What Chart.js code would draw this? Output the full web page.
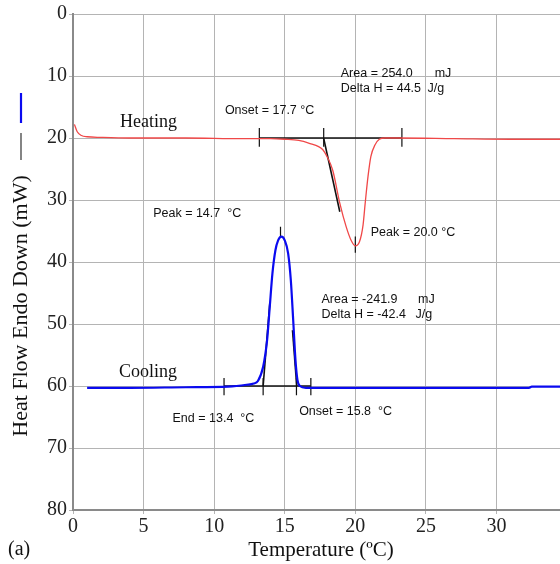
<!DOCTYPE html>
<html>
<head>
<meta charset="utf-8">
<script src="https://cdn.jsdelivr.net/npm/chart.js@4.4.0/dist/chart.umd.min.js"></script>
<style>
  body { margin: 0; background: #fff; }
  #wrap { width: 560px; height: 564px; }
</style>
</head>
<body>
<div id="wrap"><canvas id="grafico"></canvas></div>
<script>
// curva di riscaldamento (rossa)
var heatT = [0.1, 0.3, 0.6, 1.0, 2, 4, 8, 12, 14, 15, 16, 16.8, 17.4, 17.7, 18.0, 18.4, 18.9, 19.35, 19.7, 20.0,
             20.3, 20.55, 20.7, 20.9, 21.1, 21.4, 21.7, 22.1, 23, 27, 31, 34.5];
var heatV = [17.8, 19.0, 19.6, 19.8, 19.9, 20.0, 20.0, 20.1, 20.1, 20.2, 20.4, 20.9, 21.4, 21.9, 23.0, 25.2, 30.5, 34.3, 36.5, 37.4,
             36.7, 34.0, 30.5, 26.2, 23.0, 21.1, 20.2, 20.0, 20.0, 20.1, 20.2, 20.2];
// curva di raffreddamento (blu)
var coolT = [1.0, 4, 8, 11, 12.3, 12.8, 13.1, 13.47, 13.75, 13.94, 14.13, 14.34, 14.53, 14.77, 15.0, 15.24, 15.43, 15.6,
             15.76, 15.9, 16.07, 16.5, 20, 26, 32.3, 32.5, 34.5];
var coolV = [60.3, 60.3, 60.2, 60.1, 59.8, 59.6, 59.2, 56.9, 52.6, 47.2, 41.8, 38.1, 36.5, 35.9, 36.5, 38.6, 42.9, 49.4,
             55.8, 59.0, 60.0, 60.3, 60.3, 60.3, 60.3, 60.1, 60.1];

// linee di analisi (nere)
var heatBaseT = [13.2, 23.3], heatBaseV = [20, 20];
var heatTanT = [17.76, 18.9], heatTanV = [20.05, 31.9];
var coolBaseT = [10.7, 16.85], coolBaseV = [60, 60];
var coolTanLT = [13.47, 13.94], coolTanLV = [60, 46.7];
var coolTanRT = [15.55, 15.85], coolTanRV = [51, 60];
// tacche verticali [T, da, a]
var tacche = [[13.2, 18.4, 21.4], [17.76, 18.4, 21.4], [23.3, 18.4, 21.4], [20.0, 35.9, 38.5],
              [10.7, 58.7, 61.5], [13.47, 58.7, 61.5], [15.83, 58.7, 61.5], [16.85, 58.7, 61.5], [14.7, 34.3, 36.1]];

var xTicks = [0, 5, 10, 15, 20, 25, 30];
var yTicks = [0, 10, 20, 30, 40, 50, 60, 70, 80];

// etichette [testo, T, V]
var etichette = [
    ["Area = 254.0", 18.97, 9.68], ["mJ", 25.62, 9.68],
    ["Delta H = 44.5", 18.97, 11.98], ["J/g", 25.12, 11.98],
    ["Onset = 17.7 \u00B0C", 10.76, 15.5],
    ["Peak = 20.0 \u00B0C", 21.09, 35.3],
    ["Peak = 14.7  \u00B0C", 5.68, 32.15],
    ["Area = -241.9", 17.6, 46.13], ["mJ", 24.44, 46.13],
    ["Delta H = -42.4", 17.6, 48.55], ["J/g", 24.27, 48.55],
    ["End = 13.4  \u00B0C", 7.05, 65.2],
    ["Onset = 15.8  \u00B0C", 16.02, 64.1]
];
var etichetteSerif = [["Heating", 3.33, 17.4], ["Cooling", 3.26, 57.85]];

function punti(xs, ys) {
    var out = [];
    for (let i = 0; i < xs.length; i++) out.push({x: xs[i], y: ys[i]});
    return out;
}
function lineaNera(xs, ys) {
    return { data: punti(xs, ys), borderColor: '#111', borderWidth: 1.6, pointRadius: 0, showLine: true, tension: 0 };
}

var datasets = [
    { data: punti(heatT, heatV), borderColor: '#f04848', borderWidth: 1.3, pointRadius: 0, showLine: true,
      cubicInterpolationMode: 'monotone' },
    { data: punti(coolT, coolV), borderColor: '#0a0af0', borderWidth: 2.2, pointRadius: 0, showLine: true,
      cubicInterpolationMode: 'monotone' },
    lineaNera(heatBaseT, heatBaseV),
    lineaNera(heatTanT, heatTanV),
    lineaNera(coolBaseT, coolBaseV),
    lineaNera(coolTanLT, coolTanLV),
    lineaNera(coolTanRT, coolTanRV)
];
tacche.forEach(t => {
    var d = lineaNera([t[0], t[0]], [t[1], t[2]]);
    d.borderWidth = 1.2;
    datasets.push(d);
});

var testiPlugin = {
    id: 'testi',
    afterDatasetsDraw(chart) {
        var ctx = chart.ctx, sx = chart.scales.x, sy = chart.scales.y;
        ctx.save();
        ctx.fillStyle = '#111';
        ctx.textBaseline = 'middle';
        ctx.textAlign = 'left';
        ctx.font = '12.5px "Liberation Sans", Arial, sans-serif';
        etichette.forEach(e => ctx.fillText(e[0], sx.getPixelForValue(e[1]), sy.getPixelForValue(e[2])));
        ctx.font = '18px "Liberation Serif", "Times New Roman", serif';
        etichetteSerif.forEach(e => ctx.fillText(e[0], sx.getPixelForValue(e[1]), sy.getPixelForValue(e[2])));
        ctx.restore();
    },
    afterDraw(chart) {
        var ctx = chart.ctx;
        ctx.save();
        ctx.fillStyle = '#111';
        ctx.textBaseline = 'middle';
        ctx.font = '21px "Liberation Serif", "Times New Roman", serif';
        ctx.textAlign = 'center';
        ctx.fillText('Temperature (\u00BAC)', 321, 550);
        ctx.textAlign = 'left';
        ctx.font = '20px "Liberation Serif", "Times New Roman", serif';
        ctx.fillText('(a)', 8, 550);
        // titolo asse y
        ctx.translate(21, 306);
        ctx.rotate(-Math.PI / 2);
        ctx.textAlign = 'center';
        ctx.font = '22px "Liberation Serif", "Times New Roman", serif';
        ctx.fillText('Heat Flow Endo Down (mW)', 0, 0);
        ctx.restore();
        // piccola legenda: trattino blu e trattino nero
        ctx.save();
        ctx.strokeStyle = '#0a0af0';
        ctx.lineWidth = 2.2;
        ctx.beginPath(); ctx.moveTo(21, 93); ctx.lineTo(21, 123); ctx.stroke();
        ctx.strokeStyle = '#333';
        ctx.lineWidth = 1.2;
        ctx.beginPath(); ctx.moveTo(21, 133); ctx.lineTo(21, 160); ctx.stroke();
        ctx.restore();
    }
};

Chart.defaults.font.family = '"Liberation Serif", "Times New Roman", serif';

var grafico = new Chart(document.getElementById('grafico'), {
    type: 'scatter',
    data: { datasets: datasets },
    options: {
        responsive: true,
        maintainAspectRatio: false,
        animation: false,
        layout: { padding: { top: 14, right: 0, left: 0, bottom: 0 } },
        plugins: { legend: { display: false }, tooltip: { enabled: false } },
        scales: {
            x: {
                type: 'linear', min: 0, max: 34.5,
                afterBuildTicks: s => { s.ticks = xTicks.map(v => ({value: v})); },
                afterFit: s => { s.height = 54; },
                ticks: { font: { size: 20 }, color: '#222', padding: 1, includeBounds: false, maxRotation: 0 },
                grid: { color: '#b4b4b4', lineWidth: 1, tickLength: 4 },
                border: { color: '#8a8a8a', width: 2 }
            },
            y: {
                type: 'linear', min: 0, max: 80, reverse: true,
                afterBuildTicks: s => { s.ticks = yTicks.map(v => ({value: v})); },
                afterFit: s => { s.width = 73; },
                ticks: { font: { size: 20 }, color: '#222', padding: 2 },
                grid: { color: '#b4b4b4', lineWidth: 1, tickLength: 4 },
                border: { color: '#8a8a8a', width: 2 }
            }
        }
    },
    plugins: [testiPlugin]
});
</script>
</body>
</html>
